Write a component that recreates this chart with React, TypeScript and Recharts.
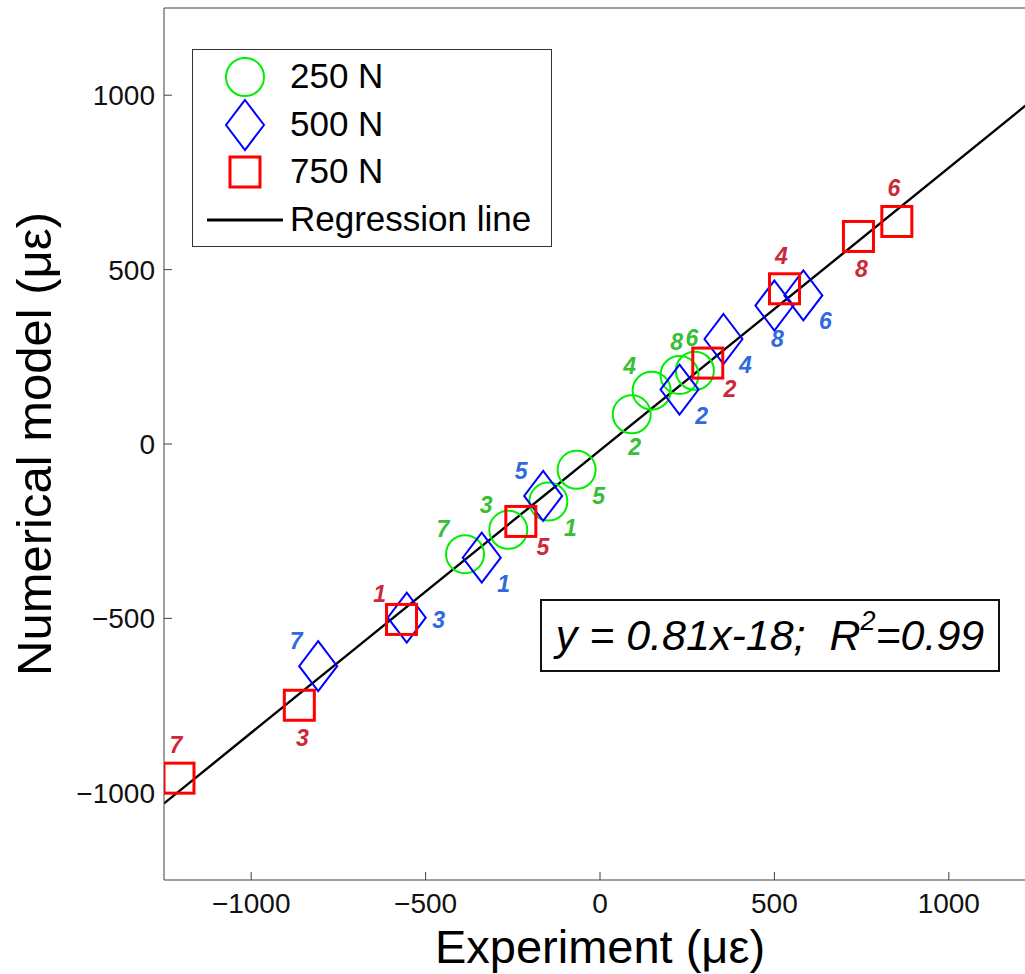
import { Legend, ReferenceLine, Scatter, ScatterChart, XAxis, YAxis } from "recharts";

// point numbers, in the order of the arrays below
const POINT_IDS = [1, 2, 3, 4, 5, 6, 7, 8];

// 250 N: experiment vs numerical model (µε), label side
const EXP_250 = [-148, 91, -263, 148, -67, 272, -387, 228];
const NUM_250 = [-165, 85, -246, 153, -74, 210, -316, 198];
const TAG_250 = ["se", "s", "nw", "nw", "se", "n", "nw", "n"];

// 500 N
const EXP_500 = [-339, 228, -554, 354, -163, 583, -808, 500];
const NUM_500 = [-326, 156, -498, 301, -149, 426, -637, 397];
const TAG_500 = ["se", "se", "e", "se", "nw", "se", "nw", "s"];

// 750 N
const EXP_750 = [-569, 309, -862, 529, -227, 851, -1207, 741];
const NUM_750 = [-503, 232, -749, 445, -222, 638, -958, 595];
const TAG_750 = ["nw", "se", "s", "n", "se", "n", "n", "s"];

const SLOPE = 0.81;
const INTERCEPT = -18;
const DOMAIN: [number, number] = [-1250, 1250];
const TICKS = [-1000, -500, 0, 500, 1000];

const FONT = "'Liberation Sans', Arial, Helvetica, sans-serif";
const FRAME = "#404040";

type Kind = "circle" | "diamond" | "square";

const SERIES: { name: string; kind: Kind; stroke: string; text: string }[] = [
  { name: "250 N", kind: "circle", stroke: "#00ee00", text: "#35c035" },
  { name: "500 N", kind: "diamond", stroke: "#0000ff", text: "#2f6ae0" },
  { name: "750 N", kind: "square", stroke: "#ff0000", text: "#cc2838" },
];

// where the point number sits around its marker
const TAG_OFFSET: Record<string, [number, number]> = {
  n: [-3, -33],
  s: [3, 33],
  nw: [-22, -25],
  se: [22, 26],
  e: [32, 2],
};

function rows(xs: number[], ys: number[], tags: string[]) {
  return POINT_IDS.map((id, i) => ({ id, x: xs[i], y: ys[i], tag: tags[i] }));
}

const DATA = [
  rows(EXP_250, NUM_250, TAG_250),
  rows(EXP_500, NUM_500, TAG_500),
  rows(EXP_750, NUM_750, TAG_750),
];

function Marker({ kind, cx, cy, stroke }: { kind: Kind; cx: number; cy: number; stroke: string }) {
  if (kind === "circle") {
    return <circle cx={cx} cy={cy} r={19} fill="none" stroke={stroke} strokeWidth={2} />;
  }
  if (kind === "diamond") {
    const w = 19;
    const h = 25;
    return (
      <polygon
        points={`${cx},${cy - h} ${cx + w},${cy} ${cx},${cy + h} ${cx - w},${cy}`}
        fill="none"
        stroke={stroke}
        strokeWidth={2}
      />
    );
  }
  return <rect x={cx - 15} y={cy - 15} width={30} height={30} fill="none" stroke={stroke} strokeWidth={3} />;
}

function pointShape(kind: Kind, stroke: string, textColor: string) {
  return (props: any) => {
    const { cx, cy, payload } = props;
    if (cx == null || cy == null) return <g />;
    const [dx, dy] = TAG_OFFSET[payload.tag] ?? [0, -30];
    return (
      <g>
        <Marker kind={kind} cx={cx} cy={cy} stroke={stroke} />
        <text
          x={cx + dx}
          y={cy + dy}
          textAnchor="middle"
          dominantBaseline="central"
          fontFamily={FONT}
          fontSize={23}
          fontWeight="bold"
          fontStyle="italic"
          fill={textColor}
        >
          {payload.id}
        </text>
      </g>
    );
  };
}

function LegendBox() {
  const rowY = [27, 75, 122, 170];
  return (
    <div
      style={{
        width: 360,
        height: 198,
        boxSizing: "border-box",
        border: "1.5px solid #333",
        background: "#fff",
      }}
    >
      <svg width={358} height={196} style={{ display: "block" }}>
        {SERIES.map((s, i) => (
          <g key={s.name}>
            <Marker kind={s.kind} cx={52} cy={rowY[i]} stroke={s.stroke} />
            <text x={97} y={rowY[i] - 2} dominantBaseline="central" fontFamily={FONT} fontSize={35} fill="#000">
              {s.name}
            </text>
          </g>
        ))}
        <line x1={14} x2={90} y1={rowY[3]} y2={rowY[3]} stroke="#000" strokeWidth={3} />
        <text x={97} y={rowY[3] - 2} dominantBaseline="central" fontFamily={FONT} fontSize={35} fill="#000">
          Regression line
        </text>
      </svg>
    </div>
  );
}

const tickStyle = { fontSize: 28, fill: "#111", fontFamily: FONT };
const fmt = (v: number) => (v < 0 ? `\u2212${Math.abs(v)}` : `${v}`);

function XTitle(props: any) {
  const vb = props.viewBox ?? { x: 164, width: 872 };
  return (
    <text x={vb.x + vb.width / 2} y={963} textAnchor="middle" fontFamily={FONT} fontSize={47} fill="#000">
      Experiment (με)
    </text>
  );
}

function YTitle(props: any) {
  const vb = props.viewBox ?? { y: 8, height: 872 };
  const cy = vb.y + vb.height / 2;
  return (
    <text
      x={51}
      y={cy}
      transform={`rotate(-90, 51, ${cy})`}
      textAnchor="middle"
      fontFamily={FONT}
      fontSize={49}
      fill="#000"
    >
      Numerical model (με)
    </text>
  );
}

export default function App() {
  return (
    <div
      style={{
        position: "absolute",
        left: 0,
        top: 0,
        width: 1025,
        height: 974,
        overflow: "hidden",
        background: "#fff",
      }}
    >
      <ScatterChart width={1060} height={974} margin={{ top: 0, right: 0, bottom: 0, left: 0 }}>
        <XAxis
          dataKey="x"
          type="number"
          domain={DOMAIN}
          ticks={TICKS}
          allowDataOverflow
          height={94}
          stroke={FRAME}
          tickSize={-8}
          tickMargin={21}
          tick={tickStyle}
          tickFormatter={fmt}
          label={<XTitle />}
        />
        <XAxis
          xAxisId="top"
          orientation="top"
          type="number"
          domain={DOMAIN}
          ticks={TICKS}
          allowDataOverflow
          height={8}
          stroke={FRAME}
          tickSize={-8}
          tick={false}
        />
        <YAxis
          dataKey="y"
          type="number"
          domain={DOMAIN}
          ticks={TICKS}
          allowDataOverflow
          width={164}
          stroke={FRAME}
          tickSize={-8}
          tickMargin={17}
          tick={tickStyle}
          tickFormatter={fmt}
          label={<YTitle />}
        />
        <YAxis
          yAxisId="right"
          orientation="right"
          type="number"
          domain={DOMAIN}
          ticks={TICKS}
          allowDataOverflow
          width={24}
          stroke={FRAME}
          tickSize={-8}
          tick={false}
        />
        {SERIES.map((s, i) => (
          <Scatter
            key={s.name}
            name={s.name}
            data={DATA[i]}
            shape={pointShape(s.kind, s.stroke, s.text)}
            isAnimationActive={false}
          />
        ))}
        <ReferenceLine
          segment={[
            { x: DOMAIN[0], y: SLOPE * DOMAIN[0] + INTERCEPT },
            { x: DOMAIN[1], y: SLOPE * DOMAIN[1] + INTERCEPT },
          ]}
          stroke="#000"
          strokeWidth={2.4}
          ifOverflow="hidden"
        />
        <Legend
          layout="vertical"
          align="center"
          verticalAlign="middle"
          content={<LegendBox />}
          wrapperStyle={{ left: 192, top: 49, width: 360, height: 198 }}
        />
      </ScatterChart>
      <div
        style={{
          position: "absolute",
          left: 540,
          top: 599,
          width: 460,
          height: 73,
          boxSizing: "border-box",
          border: "2px solid #111",
          background: "#fff",
          display: "flex",
          alignItems: "center",
          justifyContent: "center",
          fontFamily: FONT,
          fontSize: 43,
          fontStyle: "italic",
          whiteSpace: "pre",
          color: "#000",
        }}
      >
        y = 0.81x-18;  R
        <span style={{ fontSize: 27, position: "relative", top: -14 }}>2</span>
        =0.99
      </div>
    </div>
  );
}
